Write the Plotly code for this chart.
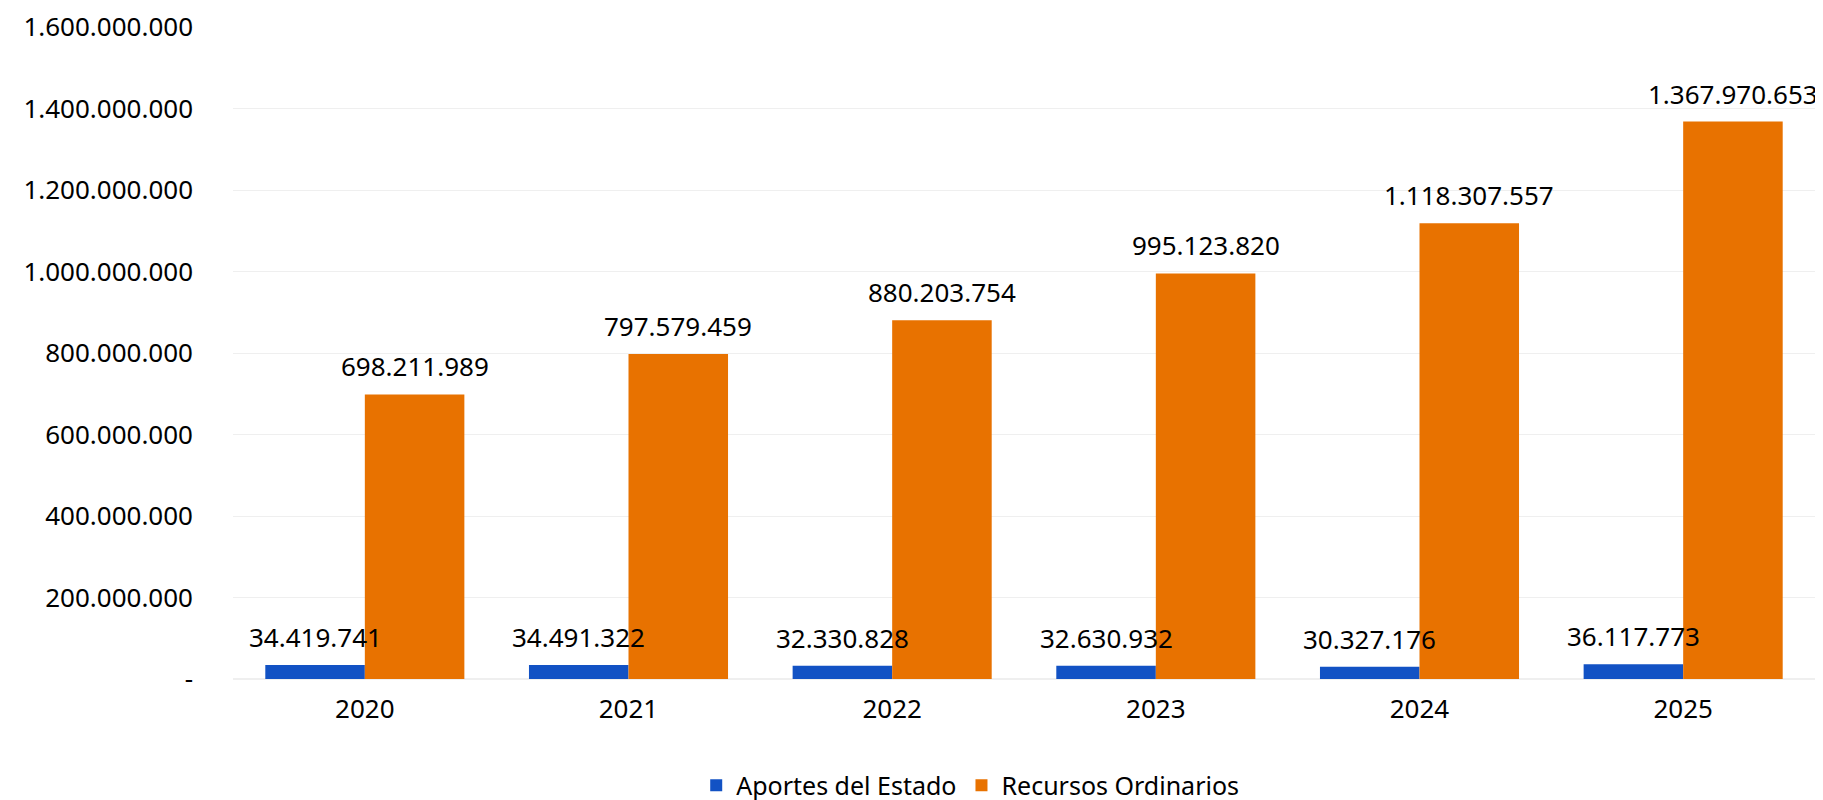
import plotly.graph_objects as go

years = ["2020", "2021", "2022", "2023", "2024", "2025"]
aportes = [34419741, 34491322, 32330828, 32630932, 30327176, 36117773]
recursos = [698211989, 797579459, 880203754, 995123820, 1118307557, 1367970653]
ytick_vals = [0, 200000000, 400000000, 600000000, 800000000, 1000000000, 1200000000, 1400000000, 1600000000]
ytick_text = ["-", "200.000.000", "400.000.000", "600.000.000", "800.000.000",
              "1.000.000.000", "1.200.000.000", "1.400.000.000", "1.600.000.000"]

def fmt(v):
    return f"{v:,}".replace(",", ".")

FONT = "Noto Sans"
FS = 26
W, H = 1823, 800
ML, MR, MT, MB = 225, 16, 19, 129
BARGAP = 0.245

plot_w = W - ML - MR
cat_w = plot_w / len(years)
bar_w = cat_w * (1 - BARGAP) / 2

fig = go.Figure()
fig.add_trace(go.Bar(x=years, y=aportes, name="Aportes del Estado", marker_color="#1252C4",
                     marker_line_width=0))
fig.add_trace(go.Bar(x=years, y=recursos, name="Recursos Ordinarios", marker_color="#E87200",
                     marker_line_width=0))

annotations = []
for series, shift in ((aportes, -bar_w / 2), (recursos, bar_w / 2)):
    for i, v in enumerate(series):
        annotations.append(dict(x=i, y=v, xref="x", yref="y", text=fmt(v), showarrow=False,
                                xanchor="center", yanchor="bottom",
                                xshift=shift, yshift=8,
                                font=dict(family=FONT, size=FS, color="#000000")))

fig.update_layout(
    width=W, height=H,
    barmode="group", bargap=BARGAP, bargroupgap=0,
    plot_bgcolor="white", paper_bgcolor="white",
    font=dict(family=FONT, size=FS, color="#000000"),
    margin=dict(l=ML, r=MR, t=MT, b=MB, autoexpand=False),
    showlegend=True,
    legend=dict(orientation="h", x=0.466, xanchor="center", y=-0.1633, yanchor="middle",
                font=dict(size=25), traceorder="normal"),
    annotations=annotations,
)
fig.update_yaxes(range=[0, 1600000000], tickvals=ytick_vals, ticktext=ytick_text,
                 showgrid=True, gridcolor="#EFEFEF", gridwidth=1, zeroline=True,
                 zerolinecolor="#EFEFEF", ticks="", ticklabelstandoff=39,
                 ticklabeloverflow="allow",
                 tickfont=dict(size=FS), automargin=False)
fig.update_xaxes(type="category", categoryorder="array", categoryarray=years,
                 range=[-0.5, len(years) - 0.5],
                 showline=False, ticks="", ticklabelstandoff=12, tickfont=dict(size=FS),
                 ticklabeloverflow="allow", automargin=False)

fig.write_html("out.html")
